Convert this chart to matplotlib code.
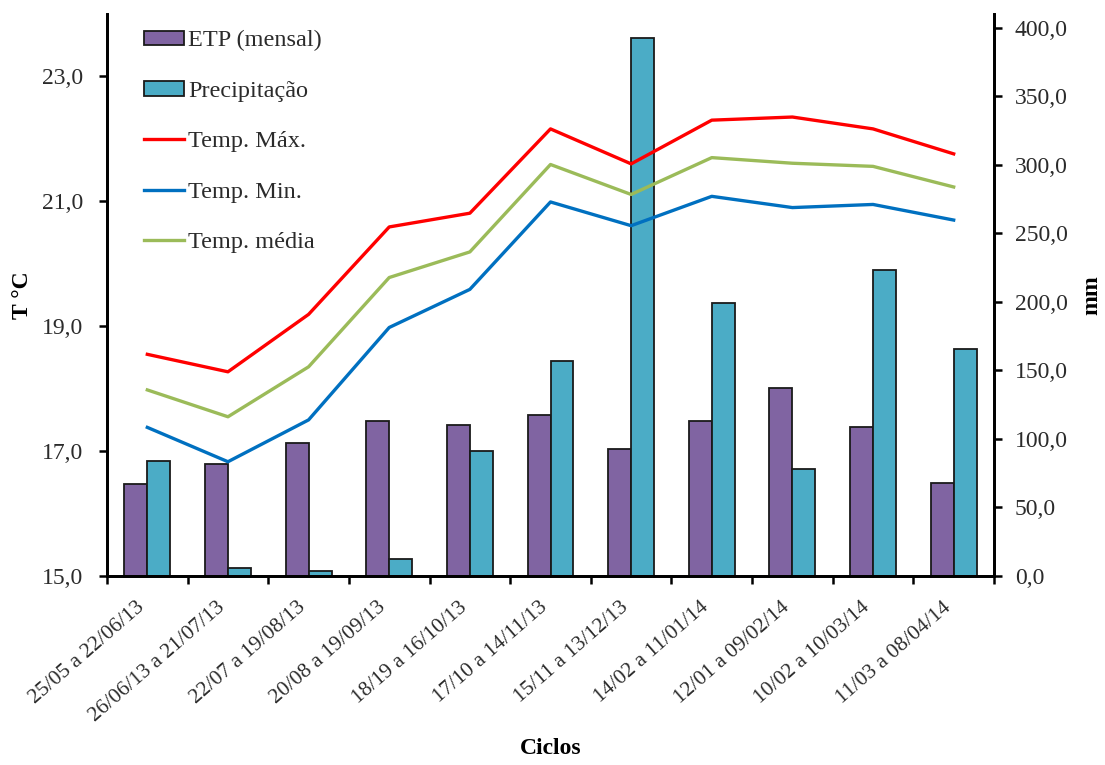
import matplotlib
matplotlib.use("Agg")
import matplotlib.pyplot as plt
import matplotlib.transforms as mtransforms
import numpy as np
from matplotlib.ticker import FixedLocator, FuncFormatter, NullFormatter
from matplotlib.patches import Patch
from matplotlib.lines import Line2D

# Data
ciclos = ["25/05 a 22/06/13", "26/06/13 a 21/07/13", "22/07 a 19/08/13",
          "20/08 a 19/09/13", "18/19 a 16/10/13", "17/10 a 14/11/13",
          "15/11 a 13/12/13", "14/02 a 11/01/14", "12/01 a 09/02/14",
          "10/02 a 10/03/14", "11/03 a 08/04/14"]
etp = [67.0, 81.5, 96.8, 112.8, 110.2, 117.4, 92.5, 113.0, 137.4, 108.8, 68.2]
precip = [84.0, 6.0, 4.0, 12.4, 91.4, 156.5, 392.5, 199.0, 78.0, 223.5, 165.6]
t_max = [18.55, 18.27, 19.19, 20.59, 20.81, 22.16, 21.60, 22.30, 22.35, 22.16, 21.76]
t_min = [17.38, 16.83, 17.50, 18.98, 19.59, 20.99, 20.61, 21.08, 20.90, 20.95, 20.70]
t_med = [17.98, 17.55, 18.35, 19.78, 20.19, 21.59, 21.11, 21.70, 21.61, 21.56, 21.23]

temp_ticks = [15, 17, 19, 21, 23]
mm_ticks = [0, 50, 100, 150, 200, 250, 300, 350, 400]

FONT = "Liberation Serif"
TXT = "#2b2b2b"
plt.rcParams["font.family"] = [FONT, "DejaVu Serif"]

c_etp = "#8064A2"
c_prec = "#4BACC6"
c_max = "#FF0000"
c_min = "#0070C0"
c_med = "#9BBB59"

W, H = 1105, 765
fig = plt.figure(figsize=(W / 100, H / 100), dpi=100)
left, right, bottom, top = 107 / W, 994 / W, (H - 576) / H, (H - 14) / H
ax = fig.add_axes([left, bottom, right - left, top - bottom])
ax2 = ax.twinx()

x = np.arange(len(ciclos))
bw = 0.285

# Bars on the mm axis
ax2.bar(x - bw / 2, etp, width=bw, color=c_etp, edgecolor="#1a1a1a", linewidth=1.3, zorder=2)
ax2.bar(x + bw / 2, precip, width=bw, color=c_prec, edgecolor="#1a1a1a", linewidth=1.3, zorder=2)

# Temperature lines on the °C axis, drawn over the bars
lw = 2.4
ax.plot(x, t_max, color=c_max, lw=lw, zorder=3)
ax.plot(x, t_min, color=c_min, lw=lw, zorder=3)
ax.plot(x, t_med, color=c_med, lw=lw, zorder=3)
ax.set_zorder(ax2.get_zorder() + 1)
ax.patch.set_visible(False)

ax.set_xlim(-0.5, len(ciclos) - 0.5)
ax.set_ylim(15, 24)
ax2.set_ylim(0, 410)

comma = FuncFormatter(lambda v, p: f"{v:.1f}".replace(".", ","))
ax.yaxis.set_major_locator(FixedLocator(temp_ticks))
ax.yaxis.set_major_formatter(comma)
ax2.yaxis.set_major_locator(FixedLocator(mm_ticks))
ax2.yaxis.set_major_formatter(comma)

# category boundaries as ticks, labels at centres
ax.xaxis.set_major_locator(FixedLocator(np.arange(-0.5, len(ciclos), 1.0)))
ax.xaxis.set_major_formatter(NullFormatter())
ax.xaxis.set_minor_locator(FixedLocator(x))
ax.set_xticklabels(ciclos, minor=True)
ax.tick_params(axis="x", which="minor", length=0, pad=21)
shift = mtransforms.ScaledTranslation(-4 / 72, 0, fig.dpi_scale_trans)
for lab in ax.get_xticklabels(minor=True):
    lab.set_rotation(41)
    lab.set_ha("right")
    lab.set_va("center")
    lab.set_rotation_mode("anchor")
    lab.set_fontsize(15.5)
    lab.set_color(TXT)
    lab.set_transform(lab.get_transform() + shift)

ax.tick_params(axis="x", which="major", direction="out", length=6, width=1.8, color="black")
ax.tick_params(axis="y", direction="out", length=6, width=1.8, labelsize=17, labelcolor=TXT, pad=11)
ax2.tick_params(axis="y", direction="out", length=6, width=1.8, labelsize=17, labelcolor=TXT, pad=9)

for a in (ax, ax2):
    a.spines["top"].set_visible(False)
    for s in ("left", "right", "bottom"):
        a.spines[s].set_linewidth(2)
        a.spines[s].set_color("black")

# axis titles placed at fixed positions (axes fractions)
ax_w, ax_h = 887.0, 562.0
ax.set_ylabel("T °C", fontsize=17, fontweight="bold", color="black")
ax.yaxis.set_label_coords((22 - 107) / ax_w, 0.5)
ax.yaxis.label.set_va("center")
ax2.set_ylabel("mm", fontsize=17, fontweight="bold", color="black")
ax2.yaxis.set_label_coords((1092 - 107) / ax_w, 0.5)
ax2.yaxis.label.set_va("center")
ax.set_xlabel("Ciclos", fontsize=17, fontweight="bold", color="black")
ax.xaxis.set_label_coords(0.5, (576 - 749) / ax_h)
ax.xaxis.label.set_va("center")

handles = [
    Patch(facecolor=c_etp, edgecolor="#1a1a1a", linewidth=1.3),
    Patch(facecolor=c_prec, edgecolor="#1a1a1a", linewidth=1.3),
    Line2D([], [], color=c_max, lw=lw),
    Line2D([], [], color=c_min, lw=lw),
    Line2D([], [], color=c_med, lw=lw),
]
labels = ["ETP (mensal)", "Precipitação", "Temp. Máx.", "Temp. Min.", "Temp. média"]
leg = ax.legend(handles, labels, loc="upper left", bbox_to_anchor=(0.042, 0.971),
                frameon=False, fontsize=17.5, handlelength=1.65, handleheight=0.55,
                handletextpad=0.17, labelspacing=1.21, borderpad=0, borderaxespad=0)
for t in leg.get_texts():
    t.set_color(TXT)

fig.savefig("out.png", dpi=100, facecolor="white")
